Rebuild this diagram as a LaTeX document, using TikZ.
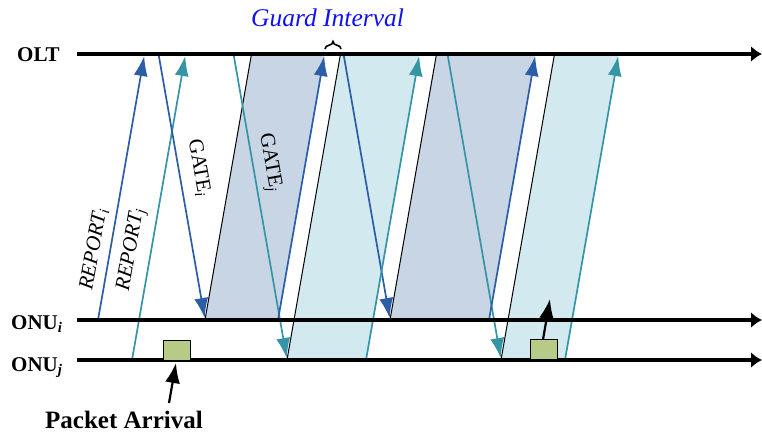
\documentclass[tikz,border=0pt]{standalone}
\usepackage{fontspec}
\setmainfont{Liberation Serif}
\newfontfamily\labelfont{Liberation Serif}
\usetikzlibrary{arrows.meta}
\definecolor{gateblue}{HTML}{2B5EA7}
\definecolor{gateteal}{HTML}{3595A7}
\definecolor{slotblue}{HTML}{C8D5E5}
\definecolor{slotcyan}{HTML}{D2EAEF}
\definecolor{pktgreen}{HTML}{B8CB86}
\definecolor{guardblue}{HTML}{1010F0}
\begin{document}
\begin{tikzpicture}[x=1pt,y=-1pt,
  axisline/.style={line width=3.3pt,-{Latex[length=11pt,width=16pt]}},
  msgi/.style={gateblue,line width=1.7pt,-{Latex[length=20pt,width=14pt]}},
  msgj/.style={gateteal,line width=1.7pt,-{Latex[length=20pt,width=14pt]}},
  slotedge/.style={black,line width=1pt},
  pktbox/.style={draw=black,fill=pktgreen,line width=1pt,minimum width=27pt,minimum height=20pt,inner sep=0pt},
  pktarrow/.style={black,line width=2.2pt,-{Latex[length=20pt,width=15pt]}},
  axlabel/.style={font=\labelfont\fontsize{21}{24}\selectfont\bfseries,inner sep=0pt},
  msglabel/.style={font=\labelfont\fontsize{21}{24}\selectfont,inner sep=0pt}]
\useasboundingbox (0,0) rectangle (762,433);

% time axes
\coordinate (oltA) at (77,54);   \coordinate (oltB) at (762,54);
\coordinate (onuiA) at (77,320); \coordinate (onuiB) at (762,320);
\coordinate (onujA) at (77,360); \coordinate (onujB) at (762,360);

% upstream slots (corners: bottom-left, top-left, top-right, bottom-right)
\coordinate (s1bl) at (205,320); \coordinate (s1tl) at (251.5,54);
\coordinate (s1tr) at (324.5,54); \coordinate (s1br) at (278,320);
\coordinate (s1tip) at (324.2,56);
\coordinate (s2bl) at (287,360); \coordinate (s2tl) at (340.5,54);
\coordinate (s2tr) at (419.5,54); \coordinate (s2br) at (366,360);
\coordinate (s2tip) at (419.2,56);
\coordinate (s3bl) at (390,320); \coordinate (s3tl) at (436.5,54);
\coordinate (s3tr) at (535.5,54); \coordinate (s3br) at (489,320);
\coordinate (s3tip) at (535.2,56);
\coordinate (s4bl) at (501,360); \coordinate (s4tl) at (554.5,54);
\coordinate (s4tr) at (618.5,54); \coordinate (s4br) at (565,360);
\coordinate (s4tip) at (618.2,56);

\fill[slotblue] (s1bl) -- (s1tl) -- (s1tr) -- (s1br) -- cycle;
\fill[slotcyan] (s2bl) -- (s2tl) -- (s2tr) -- (s2br) -- cycle;
\fill[slotblue] (s3bl) -- (s3tl) -- (s3tr) -- (s3br) -- cycle;
\fill[slotcyan] (s4bl) -- (s4tl) -- (s4tr) -- (s4br) -- cycle;

\draw[slotedge] (s1bl) -- (s1tl);
\draw[slotedge] (s2bl) -- (s2tl);
\draw[slotedge] (s3bl) -- (s3tl);
\draw[slotedge] (s4bl) -- (s4tl);

% REPORT messages
\coordinate (rep1a) at (98,320);  \coordinate (rep1b) at (144.2,56);
\coordinate (rep2a) at (132,360); \coordinate (rep2b) at (185.2,56);
\draw[msgi] (rep1a) -- (rep1b);
\draw[msgj] (rep2a) -- (rep2b);

% GATE messages
\coordinate (gt1a) at (158.5,54); \coordinate (gt1b) at (204.7,318);
\coordinate (gt2a) at (233.5,54); \coordinate (gt2b) at (286.7,358);
\coordinate (gt3a) at (343.5,54); \coordinate (gt3b) at (389.7,318);
\coordinate (gt4a) at (447.5,54); \coordinate (gt4b) at (500.7,358);
\draw[msgi] (gt1a) -- (gt1b);
\draw[msgj] (gt2a) -- (gt2b);
\draw[msgi] (gt3a) -- (gt3b);
\draw[msgj] (gt4a) -- (gt4b);

% data sent upstream in each slot
\draw[msgi] (s1br) -- (s1tip);
\draw[msgj] (s2br) -- (s2tip);
\draw[msgi] (s3br) -- (s3tip);
\draw[msgj] (s4br) -- (s4tip);

% axes on top
\draw[axisline] (oltA) -- (oltB);
\draw[axisline] (onuiA) -- (onuiB);
\draw[axisline] (onujA) -- (onujB);

% guard interval mark
\draw[black,line width=1.6pt] (325,49) .. controls (325,44) and (333,46.5) .. (333,41.5)
  .. controls (333,46.5) and (341,44) .. (341,49);
\node[font=\labelfont\fontsize{25.5}{28}\selectfont\itshape,text=guardblue,inner sep=0pt,anchor=base west] (guard) at (251,27) {Guard Interval};

% packets
\node[pktbox] (pk1) at (176.5,350) {};
\node[pktbox] (pk2) at (543.5,349.5) {};
\coordinate (pk1tail) at (169,403); \coordinate (pk1head) at (176,363);
\coordinate (pk2tail) at (543,339.5); \coordinate (pk2head) at (550,299);
\draw[pktarrow] (pk1tail) -- (pk1head);
\draw[pktarrow] (pk2tail) -- (pk2head);
\node[font=\labelfont\fontsize{25}{28}\selectfont\bfseries,inner sep=0pt,anchor=base west] (pktlabel) at (45,428) {Packet Arrival};

% axis labels
\node[axlabel,anchor=base west] (oltlabel) at (17,62) {OLT};
\node[axlabel,anchor=base west] (onuilabel) at (11,329) {ONU\textsubscript{\itshape i}};
\node[axlabel,anchor=base west] (onujlabel) at (11,371) {ONU\textsubscript{\itshape j}};

% message labels
\node[msglabel,rotate=80] (repilabel) at (94,249) {\itshape REPORT\textsubscript{i}};
\node[msglabel,rotate=80] (repjlabel) at (132,250) {\itshape REPORT\textsubscript{j}};
\node[msglabel,rotate=-80] (gateilabel) at (199,168) {GATE\textsubscript{\itshape i}};
\node[msglabel,rotate=-80] (gatejlabel) at (269,163) {GATE\textsubscript{\itshape j}};
\end{tikzpicture}
\end{document}
